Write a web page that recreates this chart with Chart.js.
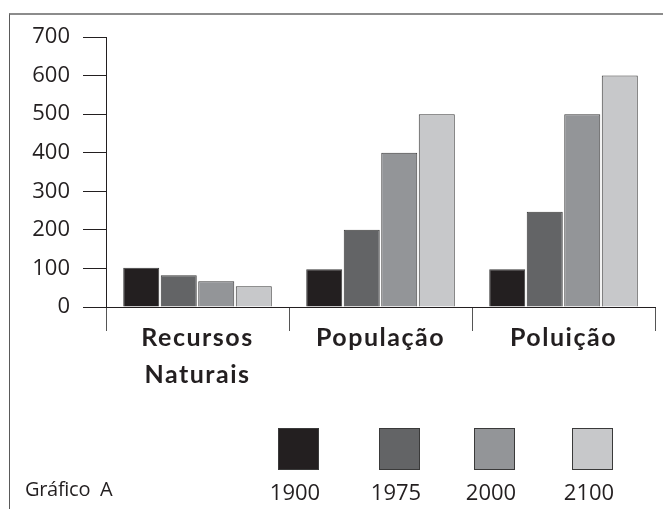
<!DOCTYPE html>
<html>
<head>
<meta charset="utf-8">
<script src="https://cdn.jsdelivr.net/npm/chart.js@4"></script>
<style>
  html, body { margin: 0; padding: 0; background: #fff; }
  #wrap { position: relative; width: 663px; height: 509px; overflow: hidden; }
  #frame { position: absolute; left: 9px; top: 13px; right: -5px; bottom: -5px;
           border-top: 2px solid #8c8c8c; border-left: 1.5px solid #5a5a5a; pointer-events: none; }
  canvas { position: absolute; left: 0; top: 0; }
  .sw { position: absolute; top: 428px; width: 39px; height: 40px; border: 1px solid #3a3a3a; box-sizing: content-box; }
  .lab { position: absolute; top: 480px; width: 80px; text-align: center;
         font-family: "Open Sans", sans-serif; font-size: 22px; line-height: 22px; color: #231f20; }
  #title { position: absolute; left: 25px; top: 479px; font-family: "Open Sans", sans-serif;
           font-size: 20px; line-height: 20px; color: #231f20; white-space: pre; letter-spacing: -0.3px; }
</style>
</head>
<body>
<div id="wrap">
  <canvas id="c" width="663" height="509"></canvas>
  <div id="frame"></div>
  <div id="title">Gráfico  A</div>
</div>
<script>
// ---- data ----
const categories = [["Recursos", "Naturais"], "População", "Poluição"];
const years = ["1900", "1975", "2000", "2100"];
const values1900 = [102, 98, 98];
const values1975 = [82, 200, 247];
const values2000 = [67, 400, 500];
const values2100 = [54, 500, 600];
const yTicks = [0, 100, 200, 300, 400, 500, 600, 700];
const colors = ["#231f20", "#636466", "#939598", "#c7c8ca"];

const seriesValues = [values1900, values1975, values2000, values2100];

const letterSpacingPlugin = {
  id: 'xLabelSpacing',
  afterDatasetsDraw(chart) { chart.ctx.letterSpacing = '1.5px'; },
  afterDraw(chart) { chart.ctx.letterSpacing = '0px'; }
};

const chart = new Chart(document.getElementById('c'), {
  type: 'bar',
  data: {
    labels: categories,
    datasets: years.map((y, i) => ({
      label: y,
      data: seriesValues[i],
      backgroundColor: colors[i],
      borderColor: '#3a3a3a',
      borderWidth: 1,
      borderSkipped: 'bottom',
      categoryPercentage: 0.82,
      barPercentage: 0.96
    }))
  },
  options: {
    responsive: false,
    animation: false,
    devicePixelRatio: 1,
    layout: { padding: { left: 0, right: 8, top: 37, bottom: 0 } },
    plugins: { legend: { display: false }, tooltip: { enabled: false } },
    scales: {
      y: {
        min: 0, max: 700,
        afterBuildTicks(scale) { scale.ticks = yTicks.map(v => ({ value: v })); },
        afterFit(scale) { scale.width = 106; },
        grid: { drawOnChartArea: false, drawTicks: true, tickLength: 23, color: '#231f20', lineWidth: 1 },
        border: { color: '#231f20', width: 1 },
        ticks: { padding: 13, color: '#231f20', font: { family: 'Open Sans', size: 22 } }
      },
      x: {
        afterFit(scale) { scale.height = 202; },
        grid: { offset: true, drawOnChartArea: false, drawTicks: true, tickLength: 24, color: '#555555', lineWidth: 1 },
        border: { color: '#231f20', width: 1 },
        ticks: {
          z: 1, padding: -12, color: '#231f20', maxRotation: 0, autoSkip: false,
          font: { family: 'Lato', size: 25, weight: 'bold', lineHeight: '37px' }
        }
      }
    }
  },
  plugins: [letterSpacingPlugin]
});

// legend built from the datasets
const wrap = document.getElementById('wrap');
const swLeft = [278, 379, 474, 572];
chart.data.datasets.forEach((ds, i) => {
  const sw = document.createElement('div');
  sw.className = 'sw';
  sw.style.left = swLeft[i] + 'px';
  sw.style.background = ds.backgroundColor;
  wrap.appendChild(sw);
  const lab = document.createElement('div');
  lab.className = 'lab';
  lab.style.left = (swLeft[i] + 20 - 3 - 40) + 'px';
  lab.textContent = ds.label;
  wrap.appendChild(lab);
});
</script>
</body>
</html>
